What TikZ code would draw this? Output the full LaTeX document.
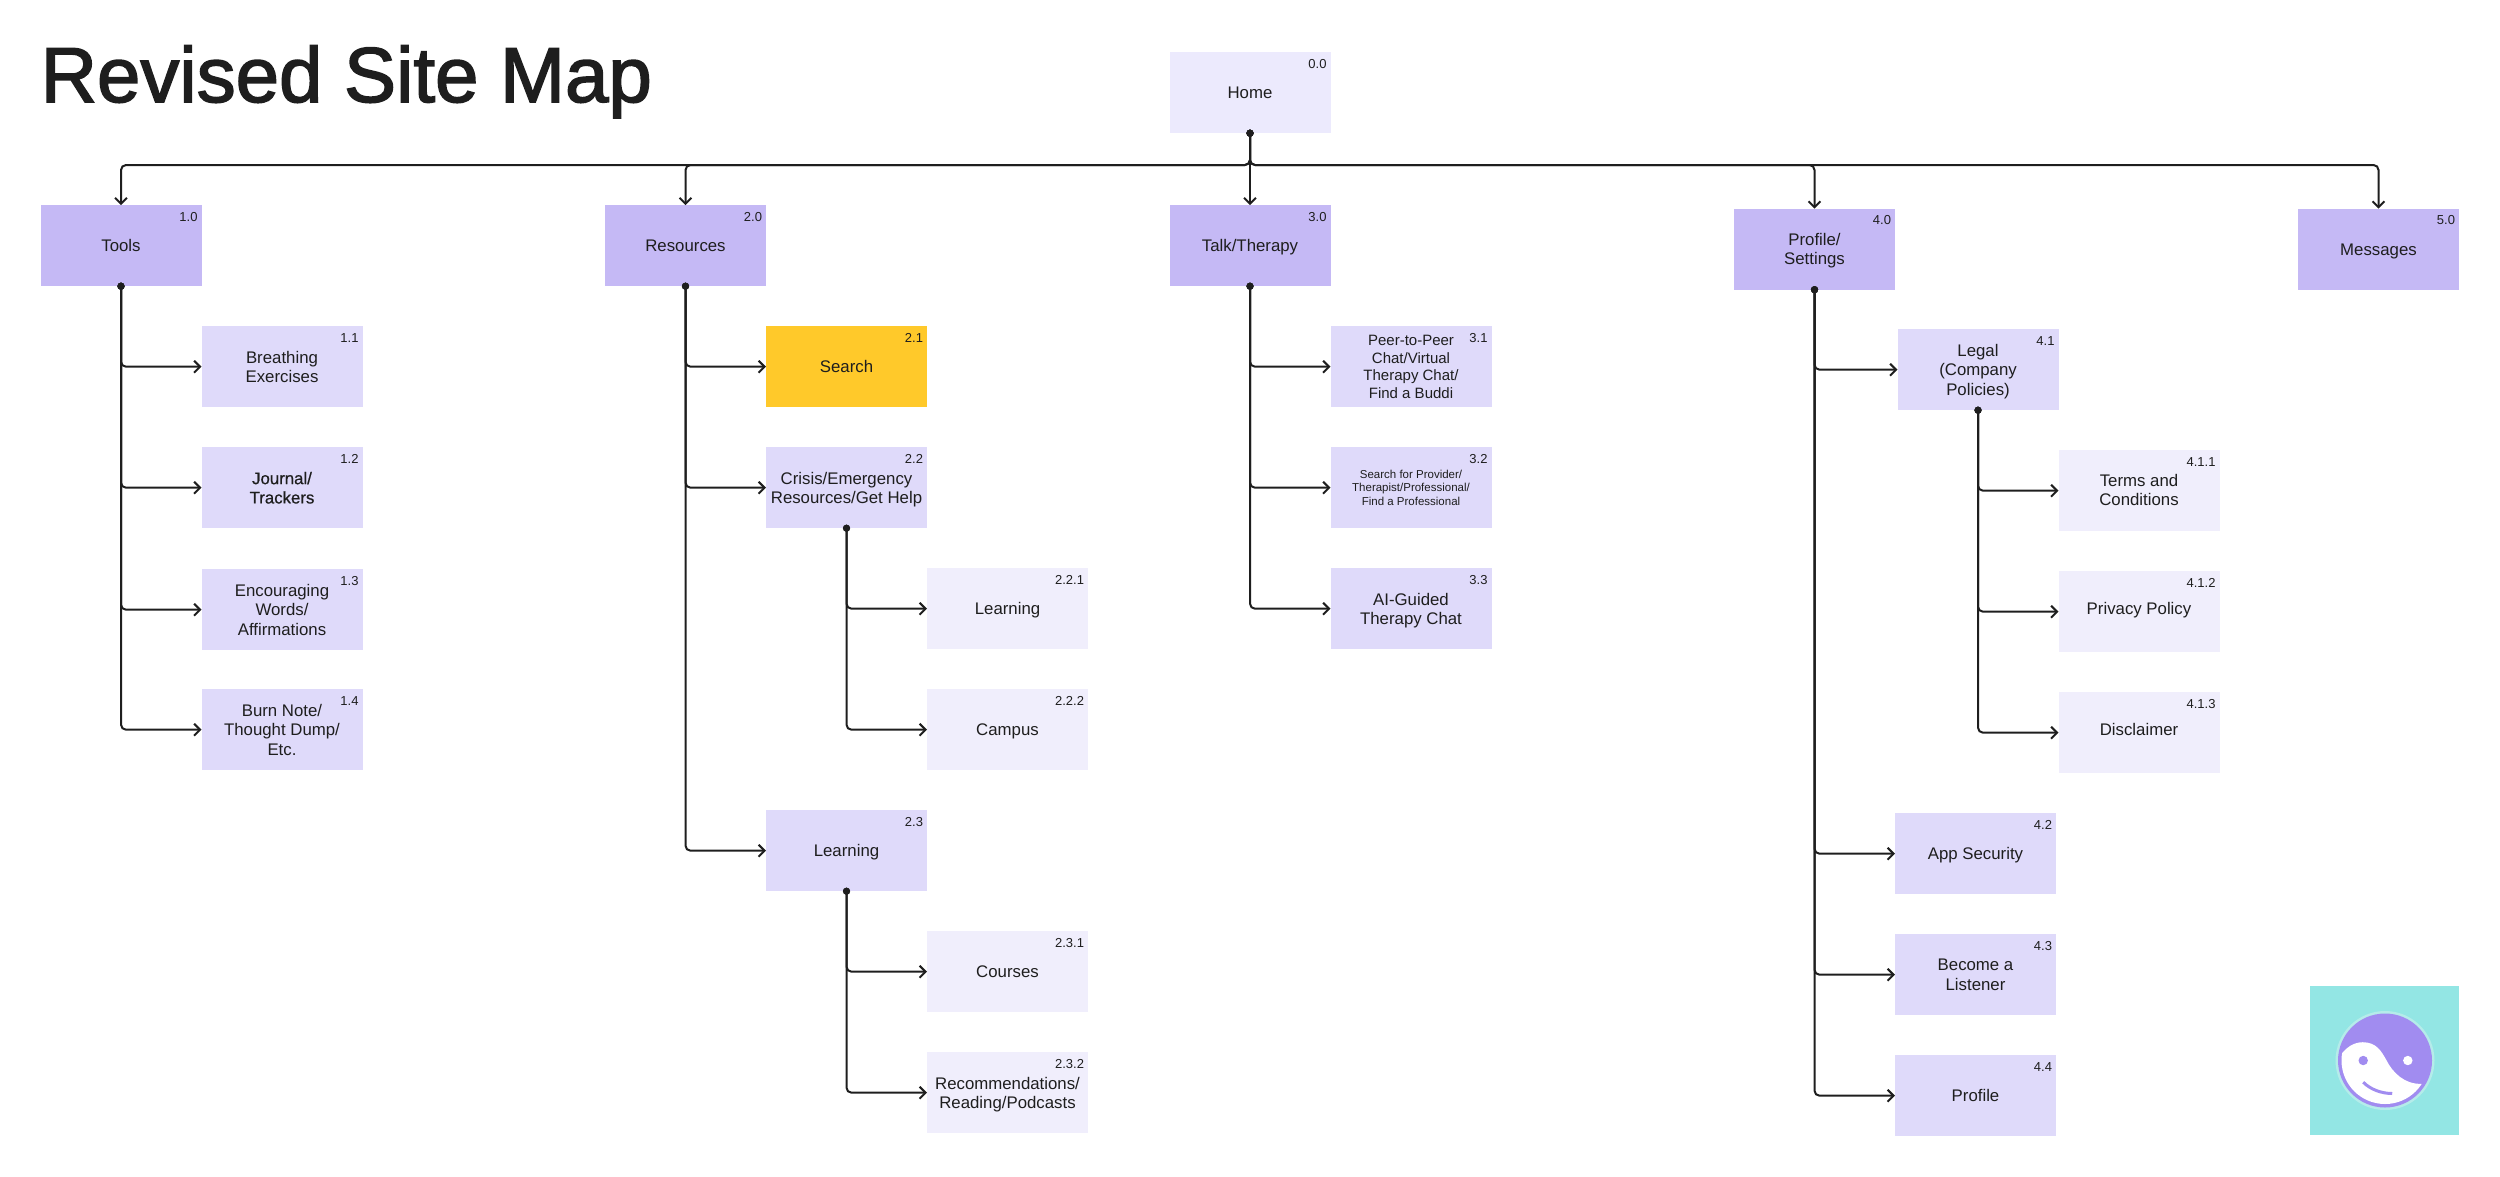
\documentclass[tikz,border=0pt]{standalone}
\usepackage{fontspec}
\setmainfont{Liberation Sans}
\newfontfamily\titlefont[FakeBold=2]{Liberation Sans}
\newfontfamily\darkfont[FakeBold=0.6]{Liberation Sans}
\usetikzlibrary{arrows.meta,positioning}
\definecolor{ink}{HTML}{1E1E1E}
\definecolor{rootfill}{HTML}{ECEAFD}
\definecolor{mainfill}{HTML}{C5B9F5}
\definecolor{subfill}{HTML}{DFDAFA}
\definecolor{leaffill}{HTML}{F0EEFC}
\definecolor{amber}{HTML}{FFC92A}
\definecolor{teal}{HTML}{93E6E4}
\definecolor{halo}{HTML}{B5ECEA}
\definecolor{violet}{HTML}{A18CF0}
\tikzset{page/.style={inner sep=0pt,outer sep=0pt,minimum width=161pt,minimum height=81pt,align=center,
  text=ink,font=\fontsize{16.8}{19.3}\selectfont,
  execute at begin node={\leavevmode\vrule height 1em depth 0pt width 0pt},
  execute at end node={\vrule height 0pt depth .284em width 0pt}},
  rootbox/.style={page,fill=rootfill},
  mainbox/.style={page,fill=mainfill},
  subbox/.style={page,fill=subfill},
  leafbox/.style={page,fill=leaffill},
  searchbox/.style={page,fill=amber},
  wrap/.style={text depth=-1.2pt},
  raised/.style={execute at end node={\vrule height 0pt depth 10.5pt width 0pt}},
  num/.style={anchor=north east,inner sep=0pt,outer sep=0pt,xshift=-4pt,yshift=-7pt,text=ink,
    font=\fontsize{13}{15}\selectfont},
  link/.style={{Circle[length=7pt]}-{Straight Barb[length=6pt,width=12pt]},shorten <=-3.5pt,
    draw=ink,line width=2pt,rounded corners=5pt}}
\begin{document}
\begin{tikzpicture}[x=1pt,y=-1pt,node distance=40pt and 0pt]
\useasboundingbox (0,0) rectangle (2500,1176);
\node[inner sep=0pt,anchor=base west,text=ink,font=\titlefont\fontsize{78}{90}\selectfont] (title) at (40.5,102) {Revised Site Map};
\node[rootbox,label={[num,name=n00]north east:0.0}] (home) at (1250,92.7) {Home};
\node[mainbox,below=72pt of home,label={[num,name=n30]north east:3.0}] (talk) {Talk/Therapy};
\node[mainbox,left=403.5pt of talk,label={[num,name=n20]north east:2.0}] (resources) {Resources};
\node[mainbox,left=403.5pt of resources,label={[num,name=n10]north east:1.0}] (tools) {Tools};
\node[mainbox,wrap,right=403.5pt of talk,yshift=-3.5pt,label={[num,name=n40]north east:4.0}] (profile) {Profile/\\Settings};
\node[mainbox,right=403pt of profile,label={[num,name=n50]north east:5.0}] (messages) {Messages};
% tools
\node[subbox,wrap,below right=40pt and 0pt of tools,label={[num,name=n11]north east:1.1}] (breathing) {Breathing\\Exercises};
\node[subbox,wrap,below=of breathing,label={[num,name=n12]north east:1.2},
  font=\darkfont\fontsize{16.8}{19.3}\selectfont] (journal) {Journal/\\Trackers};
\node[subbox,wrap,below=41pt of journal,label={[num,name=n13]north east:1.3}] (words) {Encouraging\\Words/\\Affirmations};
\node[subbox,wrap,below=39pt of words,label={[num,name=n14]north east:1.4}] (burn) {Burn Note/\\Thought Dump/\\Etc.};
% resources
\node[searchbox,below right=40pt and 0pt of resources,label={[num,name=n21]north east:2.1}] (search) {Search};
\node[subbox,wrap,below=of search,label={[num,name=n22]north east:2.2}] (crisis) {Crisis/Emergency\\Resources/Get Help};
\node[leafbox,below right=40pt and 0pt of crisis,label={[num,name=n221]north east:2.2.1}] (learnleaf) {Learning};
\node[leafbox,below=of learnleaf,label={[num,name=n222]north east:2.2.2}] (campus) {Campus};
\node[subbox,below left=40pt and 0pt of campus,label={[num,name=n23]north east:2.3}] (learning) {Learning};
\node[leafbox,below right=40pt and 0pt of learning,label={[num,name=n231]north east:2.3.1}] (courses) {Courses};
\node[leafbox,wrap,below=of courses,label={[num,name=n232]north east:2.3.2}] (reading) {Recommendations/\\Reading/Podcasts};
% talk
\node[subbox,wrap,below right=40pt and 0pt of talk,label={[num,name=n31]north east:3.1},
  font=\fontsize{15}{17.7}\selectfont] (peer) {Peer-to-Peer\\Chat/Virtual\\Therapy Chat/\\Find a Buddi};
\node[subbox,wrap,below=of peer,label={[num,name=n32]north east:3.2},
  font=\fontsize{11.5}{13.7}\selectfont] (provider) {Search for Provider/\\Therapist/Professional/\\Find a Professional};
\node[subbox,wrap,below=of provider,label={[num,name=n33]north east:3.3}] (guided) {AI-Guided\\Therapy Chat};
% profile
\node[subbox,wrap,below right=39.5pt and 2.5pt of profile,label={[num,name=n41]north east:4.1}] (legal) {Legal\\(Company\\Policies)};
\node[leafbox,text depth=1.8pt,below right=40pt and 0pt of legal,label={[num,name=n411]north east:4.1.1}] (terms) {Terms and\\Conditions};
\node[leafbox,raised,below=of terms,label={[num,name=n412]north east:4.1.2}] (privacy) {Privacy Policy};
\node[leafbox,raised,below=of privacy,label={[num,name=n413]north east:4.1.3}] (disclaimer) {Disclaimer};
\node[subbox,below left=40pt and 0pt of disclaimer,xshift=-2.5pt,label={[num,name=n42]north east:4.2}] (security) {App Security};
\node[subbox,wrap,below=of security,label={[num,name=n43]north east:4.3}] (listener) {Become a\\Listener};
\node[subbox,below=of listener,label={[num,name=n44]north east:4.4}] (account) {Profile};
% top level
\coordinate (bus) at (1250,165);
\foreach \t in {tools,resources,profile,messages}
  \draw[link] (home.south)--(bus)-|(\t.north);
\draw[link] (home.south)--(talk.north);
% second level
\foreach \a/\b in {tools/breathing,tools/journal,tools/words,tools/burn,
  resources/search,resources/crisis,resources/learning,crisis/learnleaf,crisis/campus,
  learning/courses,learning/reading,talk/peer,talk/provider,talk/guided,
  profile/legal,profile/security,profile/listener,profile/account,
  legal/terms,legal/privacy,legal/disclaimer}
  \draw[link] (\a.south)|-(\b.west);
% logo
\node[fill=teal,inner sep=0pt,outer sep=0pt,minimum size=149pt] (logo) at (2384.5,1060.5) {};
\begin{scope}[shift={(logo.center)}]
\fill[halo] (0.5,0) circle[radius=49.5pt];
\fill[violet] (0.5,0) circle[radius=47pt];
\begin{scope}
\clip (-43.3,-6.3) .. controls (-38,-13) and (-31,-18.3) .. (-21.7,-18.3)
  .. controls (-8,-18.3) and (-3,-9) .. (1.7,-0.7)
  .. controls (8,12) and (20,24) .. (37,23.3) -- (60,60) -- (-60,60) -- (-60,-6.3) -- cycle;
\fill[white] (0.5,0) circle[radius=43.5pt];
\end{scope}
\fill[violet] (-21.3,0) circle[radius=4.7pt];
\fill[white] (23.3,0) circle[radius=4.7pt];
\draw[violet,line width=3pt] (-21.3,21.7) .. controls (-14,29) and (-3,33) .. (7.7,33);
\end{scope}
\end{tikzpicture}
\end{document}
